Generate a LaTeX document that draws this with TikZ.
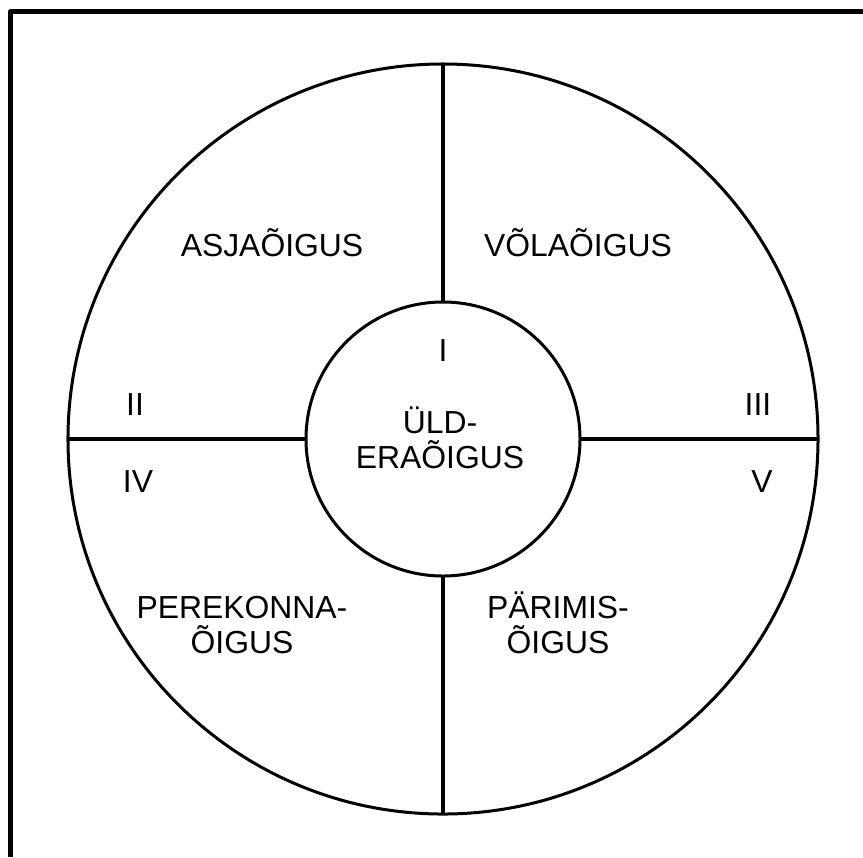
\documentclass[tikz,border=0pt]{standalone}
\usepackage{fontspec}
\setmainfont{Liberation Sans}
\usetikzlibrary{positioning}

\begin{document}
\begin{tikzpicture}[x=0.03cm, y=-0.03cm, line join=round]
  \tikzset{
    ring/.style={draw, circle, line width=0.09cm, inner sep=0pt, outer sep=0pt},
    spoke/.style={line width=0.12cm},
    label/.style={font=\fontsize{27.2pt}{29.8pt}\selectfont, align=center, inner sep=0pt, anchor=base},
  }
  \useasboundingbox (0,0) rectangle (863,857);
  % frame (top and left only)
  \draw[line width=0.15cm] (10.5,857) -- (10.5,11.5) -- (863,11.5);
  % circles
  \node[ring, minimum size=22.5cm] (outer) at (443,439) {};
  \node[ring, minimum size=8.22cm] (inner) at (443,439) {};
  \draw[spoke] (inner.north) -- (outer.north);
  \draw[spoke] (inner.south) -- (outer.south);
  \draw[spoke] (inner.west) -- (outer.west);
  \draw[spoke] (inner.east) -- (outer.east);
  % areas (base = last line)
  \node[label] (asja) at (272,256) {ASJAÕIGUS};
  \node[label] (vola) at (578,256) {VÕLAÕIGUS};
  \node[label] (yld) at (440,468) {ÜLD-\\ERAÕIGUS};
  \node[label] (pere) at (242,653) {PEREKONNA-\\ÕIGUS};
  \node[label] (pari) at (558,653) {PÄRIMIS-\\ÕIGUS};
  % numerals
  \node[label] (n1) at (443,361) {I};
  \node[label] (n2) at (135,415) {II};
  \node[label] (n3) at (758,415) {III};
  \node[label] (n4) at (138,492) {IV};
  \node[label] (n5) at (762,492) {V};
\end{tikzpicture}
\end{document}
